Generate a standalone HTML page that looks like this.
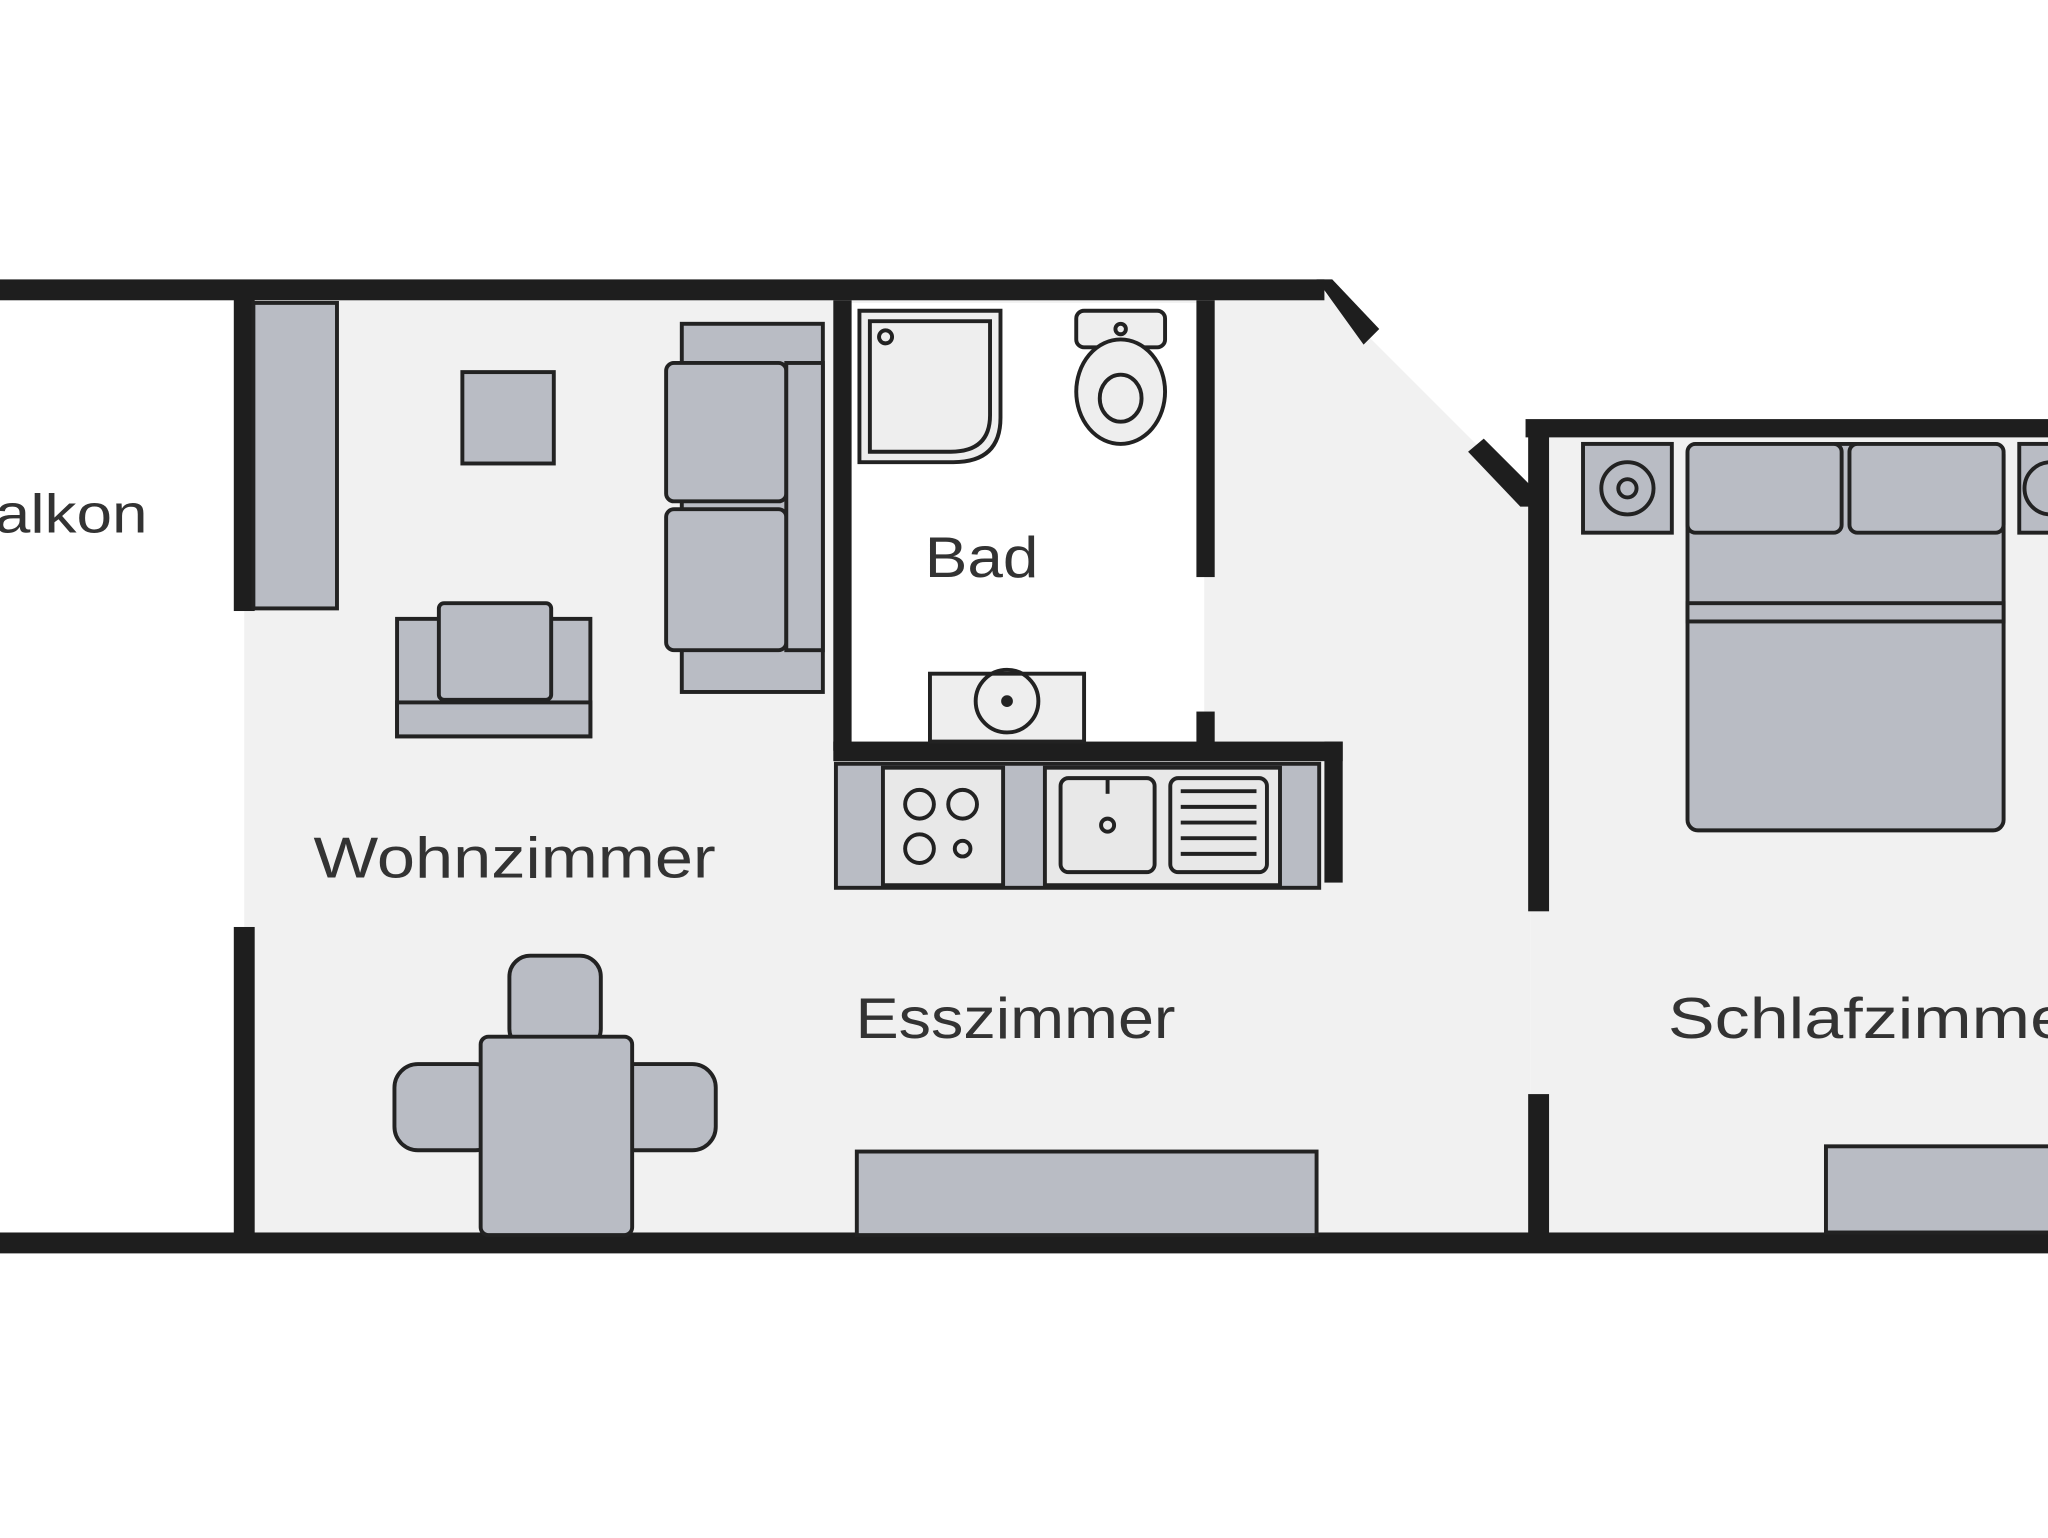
<!DOCTYPE html>
<html><head><meta charset="utf-8"><style>
html,body{margin:0;padding:0;background:#fff;}
svg{display:block;}
text{font-family:"Liberation Sans",sans-serif;fill:#333;}
</style></head><body>
<svg width="2048" height="1538" viewBox="0 0 1568 1178" preserveAspectRatio="none" xmlns="http://www.w3.org/2000/svg">
<rect width="1568" height="1178" fill="#fff"/>
<polygon points="187,222 1012,222 1172,382 1172,952 187,952" fill="#f1f1f1"/>
<rect x="1172" y="328" width="396" height="624" fill="#f1f1f1"/>
<rect x="652" y="232" width="270" height="340" fill="#fff"/>
<g fill="#1e1e1e">
<rect x="0" y="214" width="1014" height="16"/>
<polygon points="1008,214 1020,214 1056,252 1044,264"/>
<polygon points="1124,346 1136,336 1176,376 1176,388 1164,388"/>
<rect x="1168" y="321" width="400" height="14"/>
<rect x="0" y="944" width="1568" height="16"/>
<rect x="179" y="222" width="16" height="246"/>
<rect x="179" y="710" width="16" height="242"/>
<rect x="638" y="230" width="14" height="345"/>
<rect x="638" y="568" width="390" height="15"/>
<rect x="916" y="230" width="14" height="212"/>
<rect x="916" y="545" width="14" height="30"/>
<rect x="1014" y="568" width="14" height="108"/>
<rect x="1170" y="328" width="16" height="370"/>
<rect x="1170" y="838" width="16" height="114"/>
</g>
<g fill="#b9bcc4" stroke="#222" stroke-width="3">
<rect x="194" y="232" width="64" height="234"/>
<rect x="354" y="285" width="70" height="70"/>
<rect x="522" y="248" width="108" height="282"/>
<rect x="510" y="278" width="92" height="106" rx="6"/>
<rect x="510" y="390" width="92" height="108" rx="6"/>
<rect x="602" y="278" width="28" height="220"/>
<rect x="304" y="474" width="148" height="90"/>
<rect x="336" y="462" width="86" height="74" rx="4"/>
<rect x="304" y="538" width="148" height="26"/>
<rect x="390" y="732" width="70" height="72" rx="16"/>
<rect x="302" y="815" width="80" height="66" rx="18"/>
<rect x="468" y="815" width="80" height="66" rx="18"/>
<rect x="368" y="794" width="116" height="152" rx="6"/>
<rect x="656" y="882" width="352" height="64"/>
<rect x="640" y="585" width="370" height="95"/>
<rect x="676" y="588" width="92" height="90" fill="#e8e8e8"/>
<rect x="800" y="588" width="180" height="90" fill="#e8e8e8"/>
<rect x="812" y="596" width="72" height="72" rx="6" fill="#e8e8e8"/>
<rect x="896" y="596" width="74" height="72" rx="6" fill="#e8e8e8"/>
<rect x="1292" y="340" width="242" height="296" rx="8"/>
<rect x="1292" y="340" width="118" height="68" rx="6"/>
<rect x="1416" y="340" width="118" height="68" rx="6"/>
<rect x="1292" y="462" width="242" height="14"/>
<rect x="1212" y="340" width="68" height="68"/>
<rect x="1546" y="340" width="40" height="68"/>
<rect x="1398" y="878" width="180" height="66"/>
</g>
<g fill="none" stroke="#222" stroke-width="3">
<path d="M658,238 H766 V320 Q766,354 730,354 H658 Z" fill="#eee"/>
<path d="M666,246 H758 V318 Q758,346 728,346 H666 Z"/>
<circle cx="678" cy="258" r="5"/>
<rect x="824" y="238" width="68" height="28" rx="6" fill="#eee"/>
<circle cx="858" cy="252" r="4"/>
<ellipse cx="858" cy="300" rx="34" ry="40" fill="#eee"/>
<ellipse cx="858" cy="305" rx="16" ry="18"/>
<rect x="712" y="516" width="118" height="52" fill="#eee"/>
<circle cx="771" cy="537" r="24"/>
<circle cx="771" cy="537" r="3" fill="#222"/>
<circle cx="704" cy="616" r="11"/><circle cx="737" cy="616" r="11"/>
<circle cx="704" cy="650" r="11"/><circle cx="737" cy="650" r="6"/>
<circle cx="848" cy="632" r="5"/>
<path d="M848,596 v12"/>
<path d="M904,606 h58 M904,618 h58 M904,630 h58 M904,642 h58 M904,654 h58"/>
<circle cx="1246" cy="374" r="20"/>
<circle cx="1246" cy="374" r="7"/>
<circle cx="1570" cy="374" r="20"/>
</g>
<text x="-4" y="408" font-size="42" textLength="117" lengthAdjust="spacingAndGlyphs">alkon</text>
<text x="708" y="442" font-size="44" textLength="87" lengthAdjust="spacingAndGlyphs">Bad</text>
<text x="240" y="672" font-size="44" textLength="308" lengthAdjust="spacingAndGlyphs">Wohnzimmer</text>
<text x="655" y="795" font-size="44" textLength="245" lengthAdjust="spacingAndGlyphs">Esszimmer</text>
<text x="1277" y="795" font-size="44" textLength="325" lengthAdjust="spacingAndGlyphs">Schlafzimmer</text>
</svg>
</body></html>
